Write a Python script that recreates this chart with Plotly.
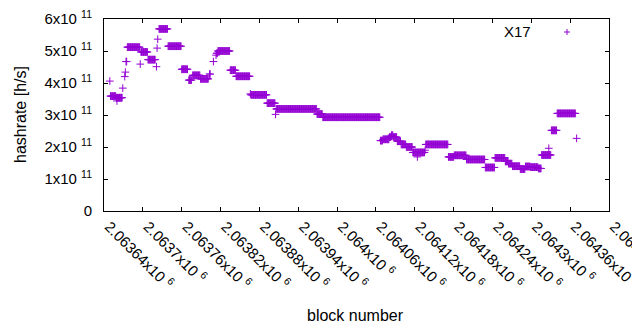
import plotly.graph_objects as go

# Runs of blocks with a constant hashrate estimate (start block, end block, value in 1e11 h/s)
seg_start = [2063649, 2063650, 2063659, 2063660, 2063669, 2063672, 2063673, 2063674,
             2063676, 2063696, 2063697, 2063708, 2063721, 2063722, 2063723, 2063725,
             2063739, 2063760, 2063771, 2063777, 2063789, 2063803, 2063809, 2063813,
             2063814, 2063816, 2063835, 2063844, 2063866, 2063867, 2063892, 2063905,
             2063906, 2063969, 2063978, 2064067, 2064071, 2064081, 2064084, 2064087,
             2064093, 2064099, 2064107, 2064117, 2064124, 2064136, 2064137, 2064172,
             2064181, 2064200, 2064229, 2064244, 2064260, 2064265, 2064271, 2064283,
             2064291, 2064299, 2064311, 2064316, 2064327, 2064331, 2064340, 2064370]
seg_end = [2063649, 2063658, 2063668, 2063660, 2063669, 2063672, 2063673, 2063675,
           2063695, 2063696, 2063707, 2063719, 2063721, 2063722, 2063723, 2063738,
           2063759, 2063769, 2063775, 2063788, 2063801, 2063804, 2063809, 2063813,
           2063815, 2063834, 2063843, 2063865, 2063866, 2063891, 2063904, 2063905,
           2063968, 2063977, 2064066, 2064070, 2064080, 2064083, 2064086, 2064092,
           2064098, 2064106, 2064116, 2064135, 2064124, 2064136, 2064171, 2064180,
           2064199, 2064228, 2064243, 2064259, 2064264, 2064270, 2064282, 2064290,
           2064298, 2064310, 2064315, 2064330, 2064327, 2064339, 2064368, 2064370]
seg_value = [4.06, 3.59, 3.54, 3.44, 3.84, 4.20, 4.34, 4.67,
             5.12, 4.59, 4.97, 4.73, 4.51, 5.09, 5.37, 5.69,
             5.15, 4.43, 4.09, 4.24, 4.13, 4.28, 4.67, 4.87,
             4.93, 5.00, 4.40, 4.21, 3.66, 3.63, 3.37, 3.02,
             3.19, 3.03, 2.93, 2.20, 2.24, 2.31, 2.37, 2.31,
             2.18, 2.08, 2.00, 1.83, 1.69, 1.90, 2.08, 1.69,
             1.74, 1.61, 1.36, 1.66, 1.55, 1.48, 1.40, 1.31,
             1.39, 1.37, 1.33, 1.75, 1.96, 2.52, 3.05, 2.27]

x_tickvals = [2063640, 2063700, 2063760, 2063820, 2063880, 2063940, 2064000,
              2064060, 2064120, 2064180, 2064240, 2064300, 2064360, 2064420]
x_ticktext = ["2.06364", "2.0637", "2.06376", "2.06382", "2.06388", "2.06394", "2.064",
              "2.06406", "2.06412", "2.06418", "2.06424", "2.0643", "2.06436", "2.06442"]
y_tickvals = [0, 1e11, 2e11, 3e11, 4e11, 5e11, 6e11]
y_ticktext = ["0", "1", "2", "3", "4", "5", "6"]

blocks, rates = [], []
for s, e, v in zip(seg_start, seg_end, seg_value):
    for b in range(s, e + 1):
        blocks.append(b)
        rates.append(v * 1e11)

color = "#9400d3"
font = "Liberation Sans, Arial, sans-serif"

# The page body has an 8px default margin, so the figure is shrunk by 8px and
# the margins shifted so the plot area lands at x 104-609, y 19-211 in the window.
fig = go.Figure()
fig.add_trace(go.Scatter(
    x=blocks, y=rates, mode="markers", name="X17", showlegend=False,
    marker=dict(symbol="cross-thin", size=5.5, color=color,
                line=dict(color=color, width=1)),
))

W = 505.0
H = 192.0

fig.update_layout(
    width=632, height=322,
    margin=dict(l=96, r=31, t=11, b=119),
    plot_bgcolor="white", paper_bgcolor="white",
    font=dict(family=font, size=15, color="#000000"),
    xaxis=dict(
        range=[2063640, 2064420], tickvals=x_tickvals,
        ticktext=[t + "x10 <sup>6</sup>" for t in x_ticktext],
        tickangle=45, ticks="inside", ticklen=4, tickcolor="black",
        ticklabelshift=5,
        showline=True, linecolor="black", linewidth=1, mirror="ticks",
        showgrid=False, zeroline=False, automargin=False, ticklabeloverflow="allow",
    ),
    yaxis=dict(
        range=[0, 6e11], tickvals=y_tickvals,
        ticktext=[t if t == "0" else t + "x10 <sup>11</sup>" for t in y_ticktext],
        ticks="inside", ticklen=4, tickcolor="black", ticklabelstandoff=8,
        showline=True, linecolor="black", linewidth=1, mirror="ticks",
        showgrid=False, zeroline=False, automargin=False, ticklabeloverflow="allow",
    ),
    annotations=[
        dict(text="hashrate [h/s]", xref="paper", yref="paper", x=(20 - 104) / W, y=0.5,
             textangle=-90, showarrow=False, xanchor="center", yanchor="middle",
             font=dict(size=16)),
        dict(text="block number", xref="paper", yref="paper", x=(355 - 104) / W,
             y=(211 - 315) / H, showarrow=False, xanchor="center", yanchor="middle",
             font=dict(size=16)),
        dict(text="X17", xref="paper", yref="paper", x=(533 - 104) / W,
             y=(211 - 31) / H, showarrow=False, xanchor="right", yanchor="middle"),
    ],
    shapes=[
        dict(type="line", xref="paper", yref="paper",
             x0=(564 - 104) / W, x1=(570 - 104) / W,
             y0=(211 - 32) / H, y1=(211 - 32) / H,
             line=dict(color=color, width=1)),
        dict(type="line", xref="paper", yref="paper",
             x0=(567 - 104) / W, x1=(567 - 104) / W,
             y0=(211 - 35) / H, y1=(211 - 29) / H,
             line=dict(color=color, width=1)),
    ],
)

fig.write_html("out.html")
